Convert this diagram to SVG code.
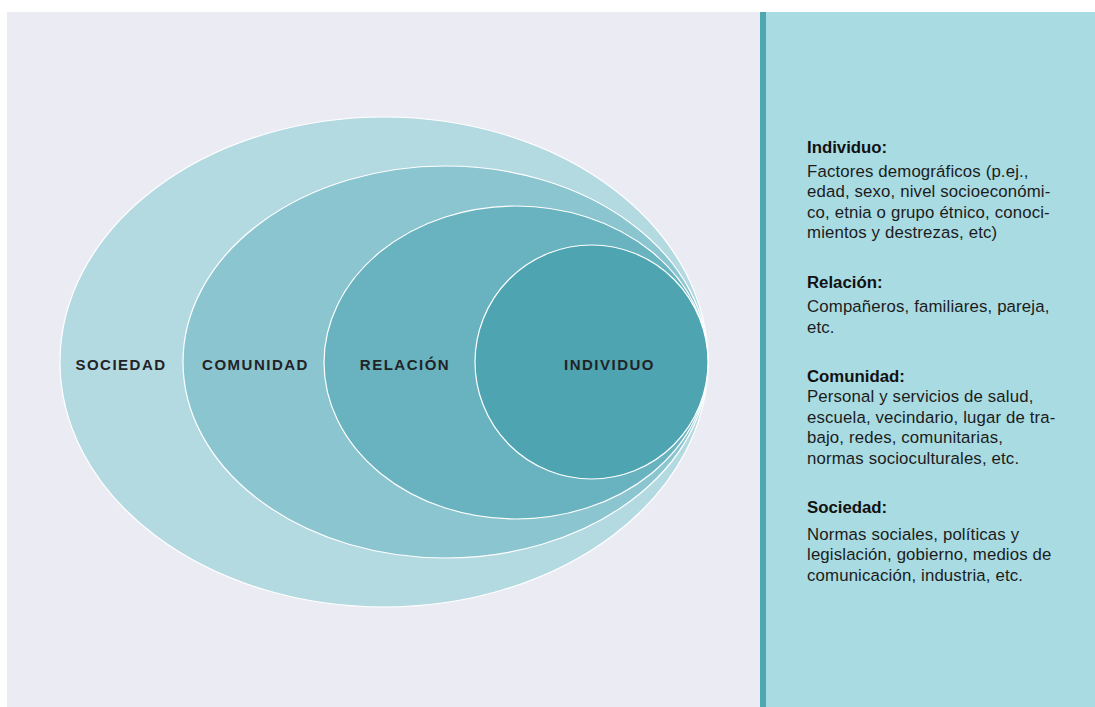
<svg xmlns="http://www.w3.org/2000/svg" width="1095" height="707" viewBox="0 0 1095 707">
  <style>
    .ring { stroke: #ffffff; stroke-width: 1.2; }
    .lvl { font-family: "Liberation Sans", Arial, sans-serif; font-weight: bold; font-size: 15px; letter-spacing: 1.5px; fill: #222326; text-anchor: middle; }
    .hd { font-family: "Liberation Sans", Arial, sans-serif; font-weight: bold; font-size: 16.8px; fill: #111111; }
    .bd { font-family: "Liberation Sans", Arial, sans-serif; font-size: 16.8px; letter-spacing: 0.15px; fill: #1c1c1c; }
  </style>
  <rect x="0" y="0" width="1095" height="707" fill="#ffffff"/>
  <!-- diagram panel -->
  <rect x="7" y="12" width="753" height="695" fill="#EBEBF4"/>
  <!-- legend panel -->
  <rect x="760" y="12" width="6" height="695" fill="#4EA7B1"/>
  <rect x="766" y="12" width="329" height="695" fill="#A9DBE2"/>

  <g id="sociedad">
    <ellipse class="ring" cx="384" cy="362" rx="324" ry="245" fill="#B3D9E1"/>
    <text class="lvl" x="121" y="370">SOCIEDAD</text>
  </g>
  <g id="comunidad">
    <ellipse class="ring" cx="445.5" cy="362" rx="262.5" ry="196" fill="#8BC5D0"/>
    <text class="lvl" x="255.5" y="370">COMUNIDAD</text>
  </g>
  <g id="relacion">
    <ellipse class="ring" cx="516" cy="362.5" rx="192" ry="156.5" fill="#68B3BF"/>
    <text class="lvl" x="405" y="370">RELACIÓN</text>
  </g>
  <g id="individuo">
    <ellipse class="ring" cx="591.5" cy="362" rx="116.5" ry="117" fill="#4FA4B1"/>
    <text class="lvl" x="609.5" y="370">INDIVIDUO</text>
  </g>

  <g id="connectors"></g>

  <g id="legend">
    <text class="hd" x="807" y="153">Individuo:</text>
    <text class="bd" x="807" y="177">Factores demográficos (p.ej.,</text>
    <text class="bd" x="807" y="197">edad, sexo, nivel socioeconómi-</text>
    <text class="bd" x="807" y="218">co, etnia o grupo étnico, conoci-</text>
    <text class="bd" x="807" y="238">mientos y destrezas, etc)</text>

    <text class="hd" x="807" y="288">Relación:</text>
    <text class="bd" x="807" y="312">Compañeros, familiares, pareja,</text>
    <text class="bd" x="807" y="333">etc.</text>

    <text class="hd" x="807" y="382">Comunidad:</text>
    <text class="bd" x="807" y="402">Personal y servicios de salud,</text>
    <text class="bd" x="807" y="423">escuela, vecindario, lugar de tra-</text>
    <text class="bd" x="807" y="443">bajo, redes, comunitarias,</text>
    <text class="bd" x="807" y="464">normas socioculturales, etc.</text>

    <text class="hd" x="807" y="513">Sociedad:</text>
    <text class="bd" x="807" y="540">Normas sociales, políticas y</text>
    <text class="bd" x="807" y="560">legislación, gobierno, medios de</text>
    <text class="bd" x="807" y="581">comunicación, industria, etc.</text>
  </g>
</svg>
